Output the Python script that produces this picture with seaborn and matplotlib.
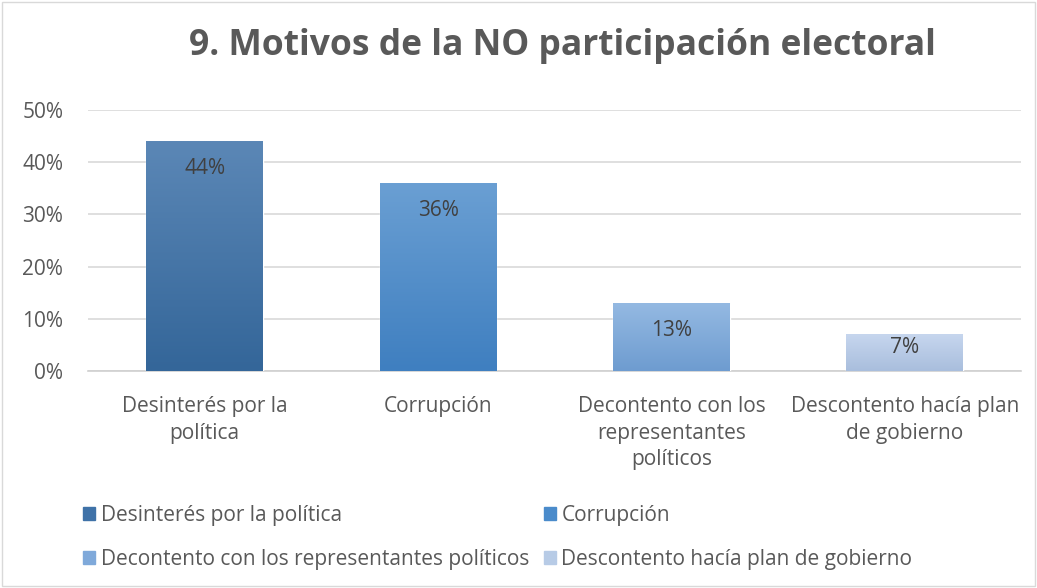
import matplotlib.pyplot as plt
import matplotlib.colors as mcolors
import numpy as np
import pandas as pd
import seaborn as sns

motivos = [
    "Desinterés por la política",
    "Corrupción",
    "Decontento con los representantes políticos",
    "Descontento hacía plan de gobierno",
]
etiquetas = [
    "Desinterés por la\npolítica",
    "Corrupción",
    "Decontento con los\nrepresentantes\npolíticos",
    "Descontento hacía plan\nde gobierno",
]
porcentaje = [44, 36, 13, 7]
colores = ["#3F72A8", "#4A8BCB", "#7FA9DA", "#B7CBE6"]
# top / bottom of the gradient on each bar
grad_top = ["#5B87B6", "#6A9FD3", "#94B9E2", "#C6D6EE"]
grad_bot = ["#346699", "#3F7FC0", "#6E9CD0", "#A9BEDD"]

df = pd.DataFrame({"motivo": motivos, "pct": porcentaje})

sns.set_style("white")
plt.rcParams["font.family"] = ["Open Sans", "DejaVu Sans"]
gris = "#595959"

fig = plt.figure(figsize=(10.37, 5.88), dpi=100)
ax = fig.add_axes([0.085, 0.369, 0.9, 0.444])

sns.barplot(data=df, x="motivo", y="pct", hue="motivo", palette=colores,
            dodge=False, width=0.5, legend=False, ax=ax, zorder=3)

# gradient fill on top of each bar
for p, c1, c2 in zip(ax.patches, grad_top, grad_bot):
    x0, w, h = p.get_x(), p.get_width(), p.get_height()
    cmap = mcolors.LinearSegmentedColormap.from_list("g", [c1, c2])
    grad = np.linspace(0, 1, 100).reshape(-1, 1)
    ax.imshow(grad, cmap=cmap, aspect="auto", extent=[x0, x0 + w, 0, h],
              origin="upper", zorder=4)
    off = 5.2 if h > 10 else 2.5
    ax.text(x0 + w / 2, h - off, f"{int(h)}%", ha="center", va="center",
            fontsize=15, color="#404040", zorder=5)

ax.set_xlim(-0.5, 3.5)
ax.set_ylim(0, 50)
ax.set_yticks(range(0, 51, 10))
ax.set_yticklabels([f"{v}%" for v in range(0, 51, 10)], fontsize=15, color=gris)
ax.set_xticks(range(4))
ax.set_xticklabels(etiquetas, fontsize=15, color=gris, linespacing=1.35)
ax.set_xticks([-0.5, 0.5, 1.5, 2.5, 3.5], minor=True)
ax.tick_params(axis="x", which="major", length=0, pad=18)
ax.tick_params(axis="x", which="minor", length=7, color="#D0D0D0", width=1.2)
ax.tick_params(axis="y", length=0, pad=18)
ax.set_xlabel("")
ax.set_ylabel("")
ax.grid(axis="y", color="#D9D9D9", linewidth=1.2, zorder=0)
for s in ["top", "right", "left"]:
    ax.spines[s].set_visible(False)
ax.spines["bottom"].set_color("#D0D0D0")
ax.spines["bottom"].set_linewidth(1.2)

fig.text(0.542, 0.922, "9. Motivos de la NO participación electoral",
         ha="center", va="center", fontsize=25.5, fontweight="bold", color=gris)

handles = [plt.Rectangle((0, 0), 1, 1, color=c) for c in colores]
orden = [0, 2, 1, 3]
fig.legend([handles[i] for i in orden], [motivos[i] for i in orden],
           ncol=2, loc="upper left", bbox_to_anchor=(0.072, 0.156),
           frameon=False, fontsize=15, labelcolor=gris, handlelength=0.6,
           handleheight=0.6, handletextpad=0.25, columnspacing=0.7,
           labelspacing=1.12, borderaxespad=0)

# light border around the chart
fig.patches.append(plt.Rectangle((0.002, 0.003), 0.996, 0.994, fill=False,
                                 edgecolor="#D9D9D9", linewidth=1,
                                 transform=fig.transFigure))

fig.savefig("out.png", dpi=100)
